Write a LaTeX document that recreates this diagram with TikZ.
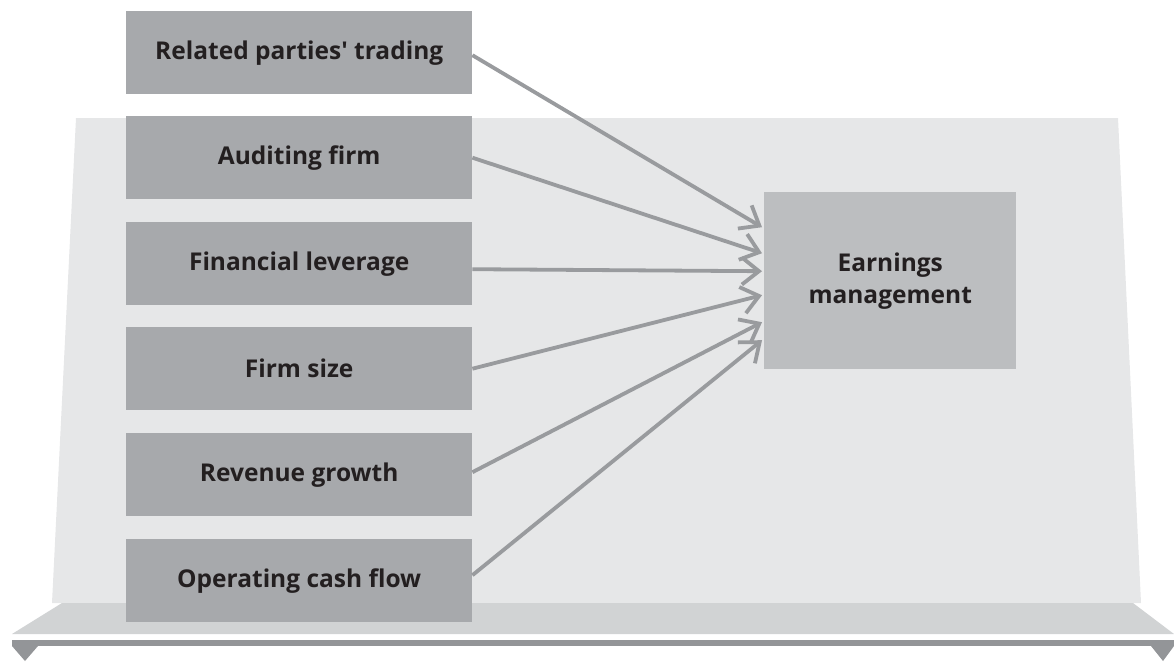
\documentclass[tikz,border=0pt]{standalone}
\usepackage{fontspec}
\setmainfont{Open Sans}[Ligatures=TeXOff]
\usetikzlibrary{arrows.meta}
\definecolor{panel}{HTML}{E6E7E8}
\definecolor{shelf}{HTML}{D1D3D4}
\definecolor{rail}{HTML}{939598}
\definecolor{factor}{HTML}{A7A9AC}
\definecolor{outcome}{HTML}{BCBEC0}
\definecolor{ink}{HTML}{231F20}
\definecolor{link}{HTML}{999B9E}
\begin{document}
\begin{tikzpicture}[x=1pt,y=-1pt,
  factorbox/.style={fill=factor,minimum width=346pt,minimum height=83pt,inner sep=0pt,
    anchor=north west,font=\fontsize{24.5}{30}\selectfont\bfseries,text=ink},
  outcomebox/.style={fill=outcome,minimum width=252pt,minimum height=177pt,inner sep=0pt,
    anchor=north west,font=\fontsize{24.5}{32}\selectfont\bfseries,text=ink,align=center},
  influence/.style={draw=link,line width=3.8pt,
    -{Straight Barb[length=17pt,width=27pt]}}]
\useasboundingbox (0,0) rectangle (1174,661);
% backdrop panel and base
\fill[panel] (76,118) -- (1118,118) -- (1141,603) -- (52,603) -- cycle;
\fill[shelf] (62,603) -- (1133,603) -- (1174,634) -- (12,634) -- cycle;
\fill[rail] (12,640) rectangle (1174,646);
\fill[rail] (12,646) -- (38,646) -- (25,661) -- cycle;
\fill[rail] (1151,646) -- (1174,646) -- (1163,661) -- cycle;
% factors
\node[factorbox] (b1) at (126,11)  {Related parties' trading};
\node[factorbox] (b2) at (126,116) {Auditing firm};
\node[factorbox] (b3) at (126,222) {Financial leverage};
\node[factorbox] (b4) at (126,327) {Firm size};
\node[factorbox] (b5) at (126,433) {Revenue growth};
\node[factorbox] (b6) at (126,539) {Operating cash flow};
% outcome
\node[outcomebox] (em) at (764,192) {Earnings\\management};
% arrow ends on the outcome box
\coordinate (t1) at ([xshift=-2pt,yshift=53.5pt]em.west);
\coordinate (t2) at ([xshift=-2pt,yshift=27.5pt]em.west);
\coordinate (t3) at ([xshift=-2pt,yshift=9.5pt]em.west);
\coordinate (t4) at ([xshift=-2pt,yshift=-14.5pt]em.west);
\coordinate (t5) at ([xshift=-2pt,yshift=-41.5pt]em.west);
\coordinate (t6) at ([xshift=-2pt,yshift=-59.5pt]em.west);
\draw[influence] ([yshift=-2.5pt]b1.east) -- (t1);
\draw[influence] (b2.east) -- (t2);
\draw[influence] ([yshift=-5.5pt]b3.east) -- (t3);
\draw[influence] (b4.east) -- (t4);
\draw[influence] ([yshift=2.5pt]b5.east) -- (t5);
\draw[influence] ([yshift=5.5pt]b6.east) -- (t6);
\end{tikzpicture}
\end{document}
